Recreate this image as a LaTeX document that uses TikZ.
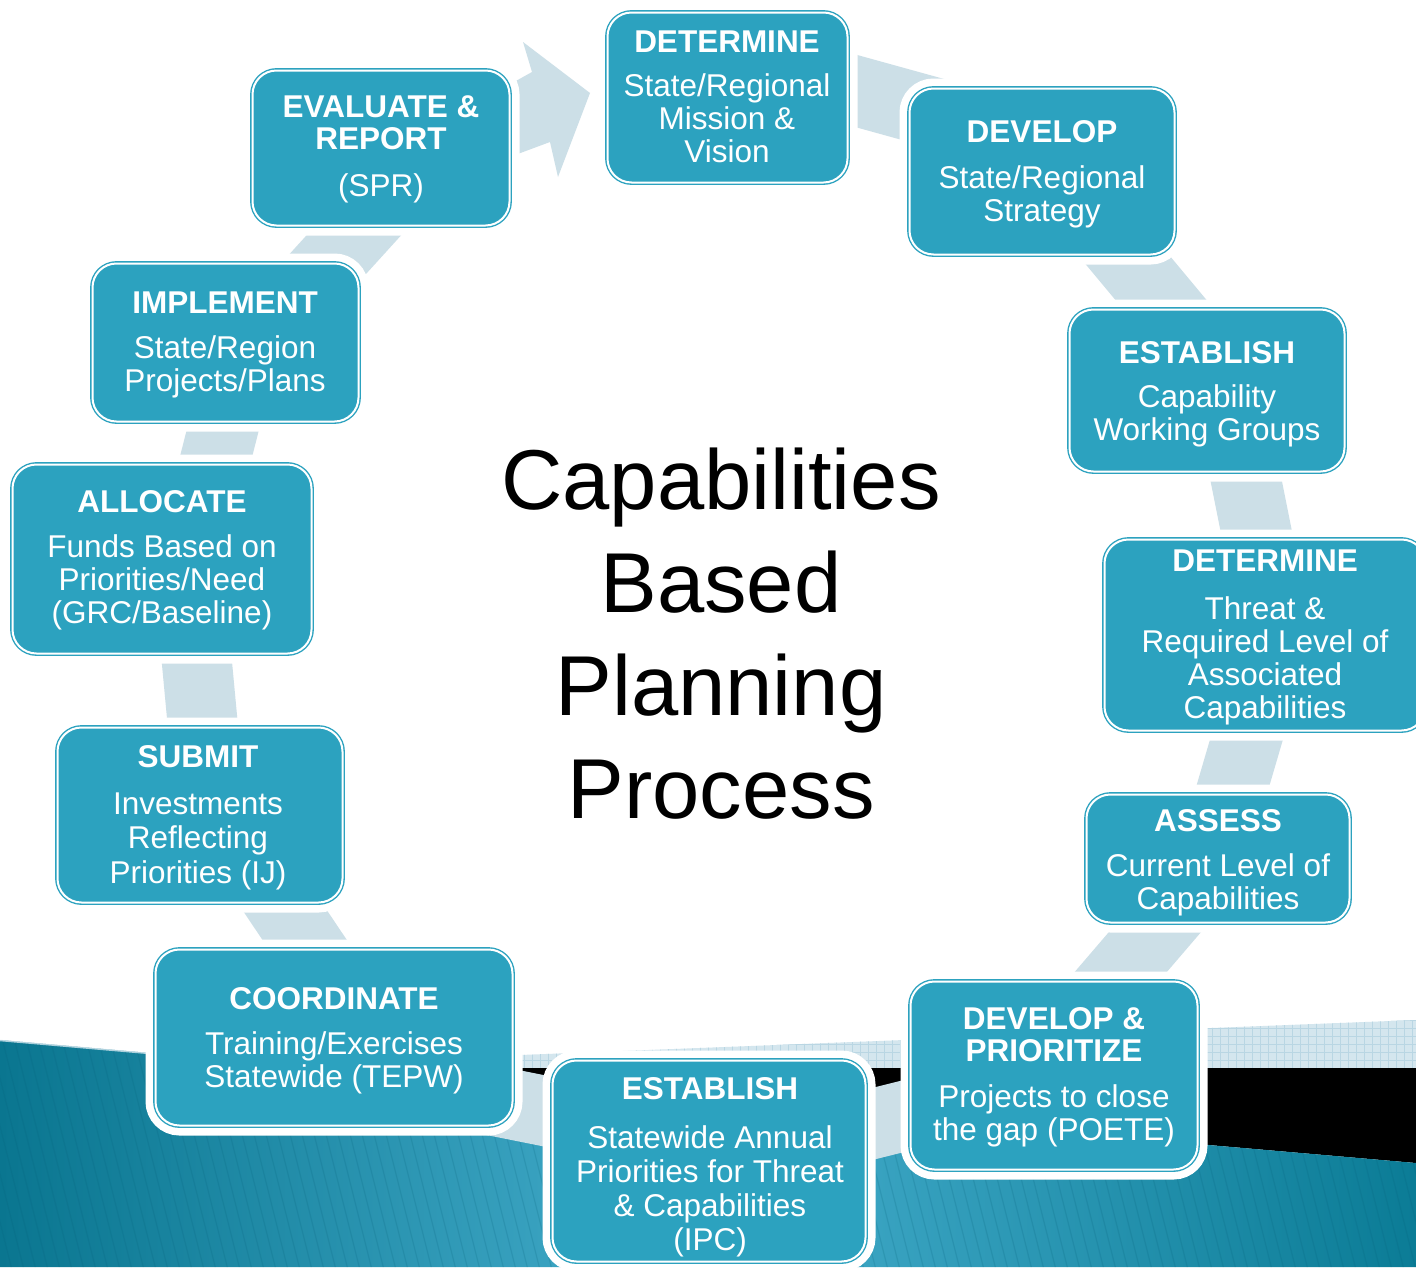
\documentclass[tikz,border=0pt]{standalone}
\usepackage{fontspec}
\setmainfont{Liberation Sans}
\definecolor{boxc}{HTML}{2CA2BF}
\definecolor{ringc}{HTML}{CCDFE7}
\definecolor{chk}{HTML}{D4E6EE}
\definecolor{chkline}{HTML}{B9D6E3}
\definecolor{bgdark}{HTML}{0A7690}
\definecolor{bglight}{HTML}{46AECD}
\definecolor{bgright}{HTML}{0B7C96}
\definecolor{stripec}{HTML}{05607A}
\newcommand\ttlfont{\fontsize{31.5}{32}\selectfont\bfseries}
\newcommand\bdyfont{\fontsize{31.5}{33}\selectfont}
\newcommand\bigfont{\fontsize{85}{103}\selectfont}
\tikzset{
  stepbox/.style={rounded corners=24pt, fill=boxc, draw=boxc, line width=1.4pt,
    double=white, double distance=2pt,
    preaction={draw=white, line width=20pt},
    inner sep=0pt, outer sep=0pt},
  ttl/.style={anchor=base, text=white, font=\ttlfont, align=center, inner sep=0pt},
  bdy/.style={anchor=base, text=white, font=\bdyfont, align=center, inner sep=0pt},
  ringseg/.style={draw=ringc, line width=70pt},
}
\begin{document}
\begin{tikzpicture}[x=1pt,y=-1pt]
\clip (0,0) rectangle (1416,1267);
\fill[white] (0,0) rectangle (1416,1267);
% checkered band
\begin{scope}
  \clip (300,1063.6) -- (1416,1020) -- (1416,1075) -- (300,1075) -- cycle;
  \fill[chk] (300,1000) rectangle (1416,1080);
  \foreach \i in {300,308,...,1416} \draw[chkline, line width=0.6pt] (\i,1000) -- (\i,1080);
  \foreach \j in {1004,1012,...,1080} \draw[chkline, line width=0.6pt] (300,\j) -- (1416,\j);
\end{scope}
% black band
\fill[black] (322,1068) -- (1416,1068) -- (1416,1163) -- cycle;
% teal wave
\shade[left color=bgdark, right color=bgright, middle color=bglight]
  (0,1040) -- (1416,1163) -- (1416,1267) -- (0,1267) -- cycle;
\begin{scope}
  \clip (0,1040) -- (1416,1163) -- (1416,1267) -- (0,1267) -- cycle;
  \foreach \i in {-120,-108,...,1416} \draw[stripec, opacity=0.18, line width=1.2pt] (\i,1030) -- ({\i+60},1270);
\end{scope}
\draw[chk, line width=1.5pt, opacity=0.8] (0,1040.5) -- (330,1069.2);
% ring segments
\coordinate (s1a) at (820,81);   \coordinate (s1b) at (990,128);
\coordinate (s2a) at (1086,210); \coordinate (s2b) at (1211,360);
\coordinate (s3a) at (1236,430); \coordinate (s3b) at (1268,590);
\coordinate (s4a) at (1261,690); \coordinate (s4b) at (1217,840);
\coordinate (s5a) at (1191,890); \coordinate (s5b) at (1071,1030);
\coordinate (s6a) at (960,1102); \coordinate (s6b) at (820,1137);
\coordinate (s7a) at (600,1122); \coordinate (s7b) at (470,1096);
\coordinate (s8a) at (345,1000); \coordinate (s8b) at (251,860);
\coordinate (s9a) at (207,770);  \coordinate (s9b) at (192,610);
\coordinate (s10a) at (205,500); \coordinate (s10b) at (233,390);
\coordinate (s11a) at (286,310); \coordinate (s11b) at (395,190);
\foreach \k in {1,...,11} \draw[ringseg] (s\k a) -- (s\k b);
% arrow head into DETERMINE
\fill[ringc] (480,101) -- (532,72) -- (523,42) -- (590,93) -- (558,177) -- (550,142) -- (480,168) -- cycle;
% boxes
\node[stepbox, minimum width=240pt, minimum height=170pt] (det1) at (727.5,97.5) {};
\node[stepbox, minimum width=265pt, minimum height=166pt] (dev) at (1042,171.5) {};
\node[stepbox, minimum width=275pt, minimum height=162pt] (est1) at (1207,390.5) {};
\node[stepbox, minimum width=321pt, minimum height=191pt] (det2) at (1265,635) {};
\node[stepbox, minimum width=263pt, minimum height=128pt] (ass) at (1218,858.5) {};
\node[stepbox, minimum width=287pt, minimum height=188pt] (devp) at (1054,1075.5) {};
\node[stepbox, minimum width=313pt, minimum height=201pt] (est2) at (709,1161) {};
\node[stepbox, minimum width=357pt, minimum height=176pt] (coord) at (334,1037.5) {};
\node[stepbox, minimum width=285pt, minimum height=175pt] (sub) at (200,815) {};
\node[stepbox, minimum width=299pt, minimum height=189pt] (alloc) at (162,559) {};
\node[stepbox, minimum width=266pt, minimum height=158pt] (impl) at (225.5,342.5) {};
\node[stepbox, minimum width=257pt, minimum height=155pt] (eval) at (381,148) {};
% texts (anchor = baseline of last line)
\node[ttl] (det1t) at (727,52) {DETERMINE};
\node[bdy] (det1b) at (727,162) {State/Regional\\Mission \&\\Vision};
\node[ttl] (devt) at (1042,142) {DEVELOP};
\node[bdy] (devb) at (1042,221) {State/Regional\\Strategy};
\node[ttl] (est1t) at (1207,363) {ESTABLISH};
\node[bdy] (est1b) at (1207,440) {Capability\\Working Groups};
\node[ttl] (det2t) at (1265,571) {DETERMINE};
\node[bdy] (det2b) at (1265,718) {Threat \&\\Required Level of\\Associated\\Capabilities};
\node[ttl] (asst) at (1218,831) {ASSESS};
\node[bdy] (assb) at (1218,909) {Current Level of\\Capabilities};
\node[ttl] (devpt) at (1054,1061) {DEVELOP \&\\PRIORITIZE};
\node[bdy] (devpb) at (1054,1140) {Projects to close\\the gap (POETE)};
\node[ttl] (est2t) at (710,1099) {ESTABLISH};
\node[bdy, font=\fontsize{31.5}{34}\selectfont] (est2b) at (710,1250) {Statewide Annual\\Priorities for Threat\\\& Capabilities\\(IPC)};
\node[ttl] (coordt) at (334,1009) {COORDINATE};
\node[bdy] (coordb) at (334,1087) {Training/Exercises\\Statewide (TEPW)};
\node[ttl] (subt) at (198,767) {SUBMIT};
\node[bdy, font=\fontsize{31.5}{34.5}\selectfont] (subb) at (198,883) {Investments\\Reflecting\\Priorities (IJ)};
\node[ttl] (alloct) at (162,512) {ALLOCATE};
\node[bdy] (allocb) at (162,623) {Funds Based on\\Priorities/Need\\(GRC/Baseline)};
\node[ttl] (implt) at (225,313) {IMPLEMENT};
\node[bdy] (implb) at (225,391) {State/Region\\Projects/Plans};
\node[ttl] (evalt) at (381,149) {EVALUATE \&\\REPORT};
\node[bdy] (evalb) at (381,196) {(SPR)};
% central title
\node[anchor=base, font=\bigfont, align=center, inner sep=0pt] (title) at (721,818) {Capabilities\\Based\\Planning\\Process};
\end{tikzpicture}
\end{document}
